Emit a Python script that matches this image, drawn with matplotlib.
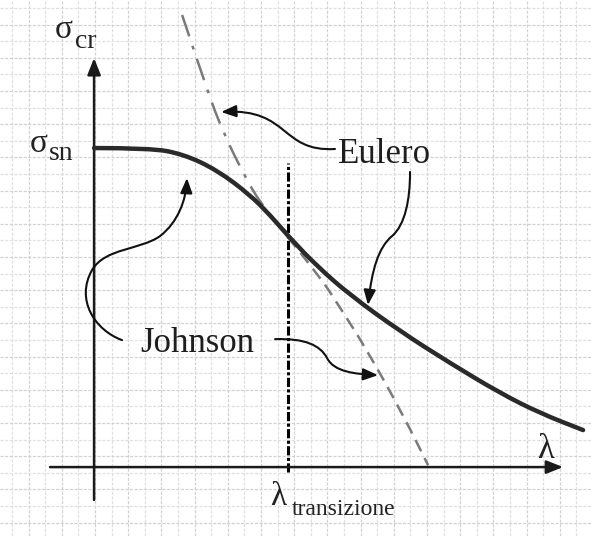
import numpy as np
import matplotlib
matplotlib.use("Agg")
import matplotlib.pyplot as plt
from matplotlib.path import Path
from matplotlib.patches import PathPatch, FancyArrowPatch

# normalised units: lambda / lambda_transizione, sigma / sigma_sn
lam_t = 1.0
sigma_sn = 1.0

# critical stress curve (Johnson + Euler branch)
lam_cr = [0.0, 0.289, 0.459, 0.634, 0.804, 0.907, 1.010, 1.149, 1.320,
          1.577, 1.835, 2.093, 2.299, 2.521]
sig_cr = [1.0, 1.0, 0.981, 0.931, 0.853, 0.790, 0.718, 0.630, 0.539,
          0.426, 0.326, 0.232, 0.169, 0.116]

# Euler curve, upper part (dash-dot) and lower part (dashed)
lam_eu_hi = [0.454, 0.582, 0.665, 0.768, 0.856, 1.0]
sig_eu_hi = [1.417, 1.182, 1.050, 0.922, 0.828, 0.720]
lam_eu_lo = [1.0, 1.165, 1.253, 1.407, 1.593, 1.722]
sig_eu_lo = [0.720, 0.596, 0.514, 0.367, 0.163, 0.006]

# annotation arrows (cubic bezier control points)
eu_arrow1 = [(1.242, 0.997), (0.959, 0.987), (1.010, 1.125), (0.655, 1.113)]
eu_arrow2 = [(1.629, 0.925), (1.629, 0.837), (1.603, 0.759), (1.536, 0.724),
             (1.464, 0.687), (1.433, 0.618), (1.412, 0.508)]
jo_arrow1 = [(0.144, 0.398), (0.005, 0.429), (-0.098, 0.524), (-0.010, 0.618),
             (0.057, 0.687), (0.237, 0.680), (0.340, 0.724),
             (0.433, 0.768), (0.474, 0.837), (0.479, 0.906)]
jo_arrow2 = [(0.933, 0.401), (1.088, 0.404), (1.165, 0.382), (1.201, 0.342),
             (1.237, 0.298), (1.345, 0.292), (1.464, 0.288)]


def smooth_path(x, y):
    # quadratic b-spline through the midpoints of the given points
    pts = np.column_stack([x, y])
    verts = [pts[0]]
    codes = [Path.MOVETO]
    for i in range(1, len(pts) - 1):
        verts += [pts[i], (pts[i] + pts[i + 1]) / 2]
        codes += [Path.CURVE3, Path.CURVE3]
    verts.append(pts[-1])
    codes.append(Path.LINETO)
    return Path(verts, codes)


def bezier_path(pts):
    codes = [Path.MOVETO] + [Path.CURVE4] * (len(pts) - 1)
    return Path(pts, codes)


plt.rcParams["font.family"] = ["Liberation Serif", "DejaVu Serif"]

fig = plt.figure(figsize=(5.92, 5.36), dpi=100)

# squared paper background
bg = fig.add_axes([0, 0, 1, 1])
bg.set_xlim(0, 592)
bg.set_ylim(536, 0)
bg.axis("off")
for i, x in enumerate(np.arange(12, 592, 16.6)):
    bg.axvline(x, color="#d2d2d2" if i % 2 else "#e0e0e0", lw=0.9,
               ls=(0, (2.5, 1.2)))
for i, y in enumerate(np.arange(8, 536, 16.6)):
    bg.axhline(y, color="#d2d2d2" if i % 2 else "#e0e0e0", lw=0.9,
               ls=(0, (2.5, 1.2)))

ax = fig.add_axes([0, 0, 1, 1])
ax.patch.set_alpha(0)
ax.set_xlim(-0.485, 2.567)
ax.set_ylim(-0.216, 1.464)
ax.axis("off")

# axes with arrow heads
head = "-|>,head_length=0.5,head_width=0.2"
ax.annotate("", xy=(0, 1.282), xytext=(0, -0.103),
            arrowprops=dict(arrowstyle=head, color="#1a1a1a", lw=1.8,
                            mutation_scale=20, shrinkA=0, shrinkB=0))
ax.annotate("", xy=(2.418, 0), xytext=(-0.227, 0),
            arrowprops=dict(arrowstyle=head, color="#1a1a1a", lw=1.8,
                            mutation_scale=20, shrinkA=0, shrinkB=0))

# Euler curve
ax.add_patch(PathPatch(smooth_path(lam_eu_hi, sig_eu_hi), fill=False,
                       ec="#7a7a7a", lw=1.8, ls=(0, (9, 4, 1.5, 4))))
ax.add_patch(PathPatch(smooth_path(lam_eu_lo, sig_eu_lo), fill=False,
                       ec="#7a7a7a", lw=1.8, ls=(0, (5, 3))))

# transition slenderness
ax.vlines(lam_t, -0.016, 0.953, color="black", lw=2.2,
          linestyles=[(0, (3, 0.8, 1, 0.8))])

# critical stress curve
ax.add_patch(PathPatch(smooth_path(lam_cr, sig_cr), fill=False,
                       ec="#2a2a2a", lw=3.2, capstyle="round",
                       joinstyle="round", zorder=3))

# labelling arrows
for pts in (eu_arrow1, eu_arrow2, jo_arrow1, jo_arrow2):
    ax.add_patch(FancyArrowPatch(
        path=bezier_path(pts),
        arrowstyle="-|>,head_length=0.45,head_width=0.18",
        mutation_scale=20, color="#111111", lw=1.5, zorder=4))

ax.text(1.258, 0.953, "Eulero", fontsize=25, va="baseline", color="#1e1e1e")
ax.text(0.237, 0.361, "Johnson", fontsize=25, va="baseline", color="#1e1e1e")

ax.text(-0.201, 1.345, "σ", fontsize=24, va="baseline", color="#222222")
ax.text(-0.100, 1.313, "cr", fontsize=20, va="baseline", color="#222222")
ax.text(-0.330, 0.987, "σ", fontsize=24, va="baseline", color="#222222")
ax.text(-0.232, 0.962, "sn", fontsize=20, va="baseline", color="#222222")
ax.text(2.284, 0.028, "λ", fontsize=25, va="baseline", color="#222222")
ax.text(0.907, -0.119, "λ", fontsize=24, va="baseline", color="#222222")
ax.text(1.021, -0.150, "transizione", fontsize=17, va="baseline",
        color="#222222")

fig.savefig("out.png", dpi=100)
